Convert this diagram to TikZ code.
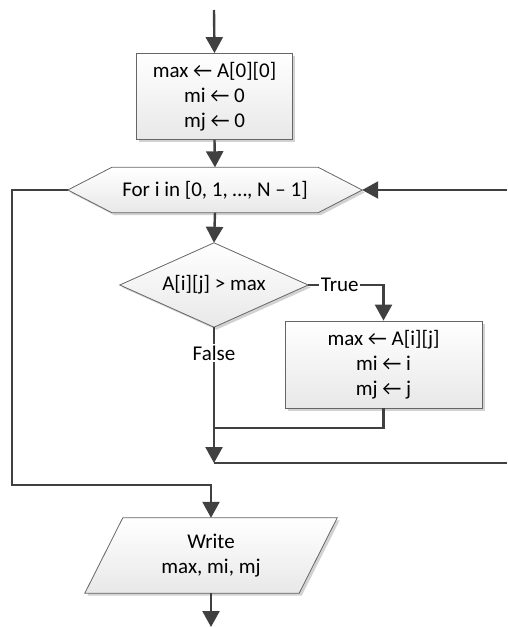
\documentclass[tikz,border=0pt]{standalone}
\usepackage{fontspec}
\setmainfont{Carlito}
\usetikzlibrary{arrows.meta,shadows,positioning}
\pgfdeclarelayer{bg}
\pgfsetlayers{bg,main}
\tikzset{
  shapefill/.style={draw=black!60, line width=0.8pt, top color=white, bottom color=black!9,
    drop shadow={shadow xshift=2.5pt, shadow yshift=-2.5pt, fill=black!35, opacity=0.5}},
  boxnode/.style={shapefill, rectangle, align=center, inner sep=0pt},
  textnode/.style={draw=none, align=center, inner sep=0pt},
  conn/.style={draw=black!75, line width=2.4pt},
  arr/.style={conn, -{Triangle[length=16pt,width=17pt]}},
  lbl/.style={fill=white, inner xsep=1.5pt, inner ysep=2pt},
}
\begin{document}
\begin{tikzpicture}[x=1pt,y=-1pt, font=\fontsize{21}{25}\selectfont]
\useasboundingbox (0,0) rectangle (507,627);
% nodes
\node[boxnode, minimum width=156pt, minimum height=86pt] (init) at (214.5,96.5)
  {max ← A[0][0]\\ mi ← 0\\ mj ← 0};
\node[textnode, minimum width=294pt, minimum height=45pt] (loop) at (215,190)
  {For i in [0, 1, …, N – 1]};
\node[textnode, minimum width=188pt, minimum height=84pt] (dec) at (214,285)
  {A[i][j] > max};
\node[boxnode, minimum width=197pt, minimum height=87pt] (upd) at (383.5,364.5)
  {max ← A[i][j]\\ mi ← i\\ mj ← j};
\node[textnode, minimum width=252pt, minimum height=75pt] (out) at (211,555.5)
  {Write\\ max, mi, mj};
% shapes behind text
\begin{pgfonlayer}{bg}
\path[shapefill] (loop.west) -- ([xshift=44pt]loop.north west) -- ([xshift=-44pt]loop.north east)
  -- (loop.east) -- ([xshift=-44pt]loop.south east) -- ([xshift=44pt]loop.south west) -- cycle;
\path[shapefill] (dec.west) -- (dec.north) -- (dec.east) -- (dec.south) -- cycle;
\path[shapefill] (out.south west) -- ([xshift=38pt]out.north west) -- (out.north east)
  -- ([xshift=-38pt]out.south east) -- cycle;
\end{pgfonlayer}
% coordinates
\coordinate (start) at (214,10);
\coordinate (lb) at (12,485);
\coordinate (rt) at (507,190);
\coordinate (rb) at (507,463);
\coordinate (mg) at (214,463);
\coordinate (mg2) at (214,428);
\coordinate (finish) at (211,627);
% connectors
\draw[arr] (start) -- (init.north);
\draw[arr] (init.south) -- (loop.north);
\draw[arr] (loop.south) -- (dec.north);
\draw[arr] (dec.east) -| node[lbl, pos=0.21] {True} (upd.north);
\draw[conn] (upd.south) |- (mg2);
\draw[arr] (dec.south) -- node[lbl, pos=0.19] {False} (mg);
\draw[conn] (mg) -- (rb);
\draw[arr] (rt) -- (loop.east);
\draw[arr] (loop.west) -| (lb) -| (out.north);
\draw[arr] (out.south) -- (finish);
\end{tikzpicture}
\end{document}
